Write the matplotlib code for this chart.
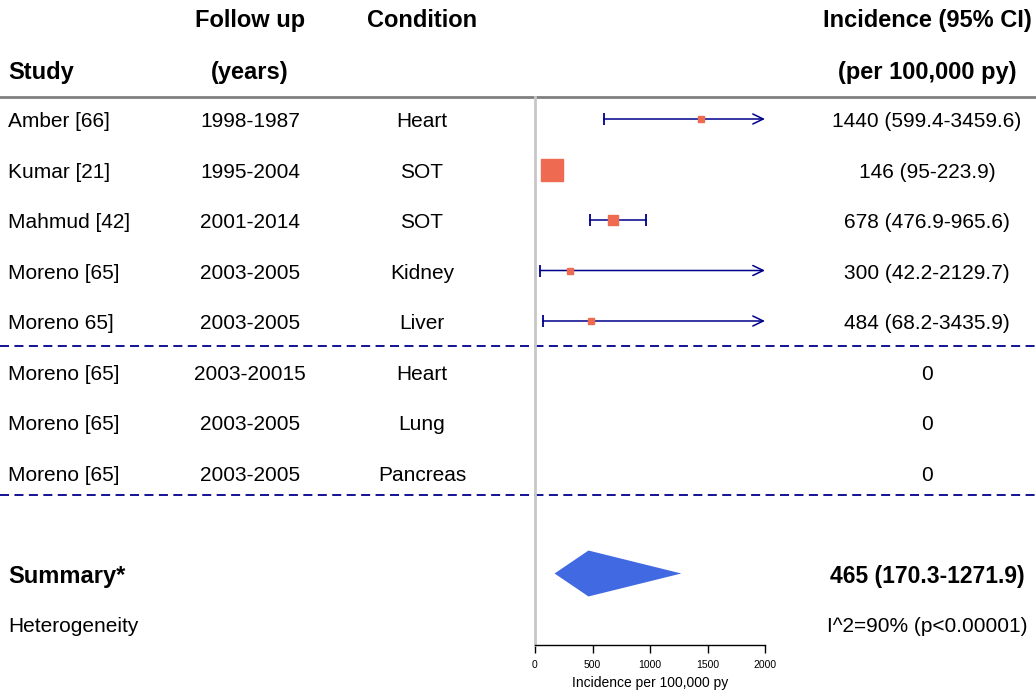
import matplotlib.pyplot as plt
from matplotlib.patches import Polygon

plt.rcParams['font.family'] = ['Liberation Sans', 'DejaVu Sans']

# study table
studies = ['Amber [66]', 'Kumar [21]', 'Mahmud [42]', 'Moreno [65]', 'Moreno 65]',
           'Moreno [65]', 'Moreno [65]', 'Moreno [65]']
follow_up = ['1998-1987', '1995-2004', '2001-2014', '2003-2005', '2003-2005',
             '2003-20015', '2003-2005', '2003-2005']
condition = ['Heart', 'SOT', 'SOT', 'Kidney', 'Liver', 'Heart', 'Lung', 'Pancreas']
incidence = [1440, 146, 678, 300, 484, 0, 0, 0]
ci_low = [599.4, 95, 476.9, 42.2, 68.2, None, None, None]
ci_high = [3459.6, 223.9, 965.6, 2129.7, 3435.9, None, None, None]
box_size = [4.3, 16.5, 6.5, 4.8, 3.8, 0, 0, 0]  # square size ~ study weight

summary_est = 465
summary_low = 170.3
summary_high = 1271.9
heterogeneity = 'I^2=90% (p<0.00001)'

x_ticks = [0, 500, 1000, 1500, 2000]
x_max = 2000

line_col = '#00008B'
box_col = '#EE6A50'
diamond_col = '#4169E1'

W, H = 1036, 691
Y0, ROW_H = 119, 50.5   # pixel centre of first row, row height
TXT_DY = 0.05           # nudge text down onto the row centre


def row_of(py):
    return (py - Y0) / ROW_H


def fmt_ci(est, lo, hi):
    if lo is None:
        return '%g' % est
    return '%g (%g-%g)' % (est, lo, hi)


fig = plt.figure(figsize=(W / 100, H / 100), dpi=100)
fig.patch.set_facecolor('white')

# text layer over the whole figure, y in row units
tax = fig.add_axes([0, 0, 1, 1])
tax.set_xlim(0, W)
tax.set_ylim(row_of(H), row_of(0))
tax.axis('off')


def put(x, row, s, ha='center', size=15, weight='normal'):
    tax.text(x, row + TXT_DY, s, ha=ha, va='center', fontsize=size, fontweight=weight)


x_study, x_fu, x_cond, x_inc = 8, 250, 422, 927
put(x_fu, -2, 'Follow up', size=17, weight='bold')
put(x_cond, -2, 'Condition', size=17, weight='bold')
put(x_inc, -2, 'Incidence (95% CI)', size=17, weight='bold')
put(x_study, -0.97, 'Study', ha='left', size=17, weight='bold')
put(x_fu, -0.97, '(years)', size=17, weight='bold')
put(x_inc, -0.97, '(per 100,000 py)', size=17, weight='bold')

for i in range(len(studies)):
    put(x_study, i, studies[i], ha='left')
    put(x_fu, i, follow_up[i])
    put(x_cond, i, condition[i])
    put(x_inc, i, fmt_ci(incidence[i], ci_low[i], ci_high[i]))

n = len(studies)
put(x_study, n + 1, 'Summary*', ha='left', size=17, weight='bold')
put(x_inc, n + 1, fmt_ci(summary_est, summary_low, summary_high), size=16.5, weight='bold')
put(x_study, n + 2, 'Heterogeneity', ha='left')
put(x_inc, n + 2, heterogeneity)

top_row = row_of(97)
tax.axhline(top_row, color='#808080', lw=2)
tax.axhline(4.5, color=line_col, lw=1.3, ls=(0, (5, 3)))
tax.axhline(7.45, color=line_col, lw=1.3, ls=(0, (5, 3)))

# forest panel
ax_bottom = 645
ax = fig.add_axes([535 / W, 1 - ax_bottom / H, 230 / W, (ax_bottom - 97) / H])
ax.set_facecolor('none')
ax.set_xlim(0, x_max)
ax.set_ylim(row_of(ax_bottom), top_row)

for i in range(n):
    lo, hi = ci_low[i], ci_high[i]
    if lo is None:
        continue
    if hi > x_max:
        ax.annotate('', xy=(x_max, i), xytext=(lo, i),
                    arrowprops=dict(arrowstyle='->,head_length=0.75,head_width=0.36',
                                    color=line_col, lw=1.1, shrinkA=0, shrinkB=0),
                    annotation_clip=False)
        ax.plot([lo], [i], marker='|', ms=8, mew=1.3, color=line_col)
    else:
        ax.plot([lo, hi], [i, i], color=line_col, lw=1.1, marker='|', ms=8, mew=1.3)
    ax.plot([incidence[i]], [i], marker='s', ms=box_size[i], color=box_col,
            mec=box_col, ls='none', zorder=3, clip_on=False)

r = n + 1
ax.add_patch(Polygon([(summary_low, r), (summary_est, r - 0.455),
                      (summary_high, r), (summary_est, r + 0.455)],
                     closed=True, facecolor=diamond_col, edgecolor='none'))

ax.spines['top'].set_visible(False)
ax.spines['right'].set_visible(False)
ax.spines['left'].set_color('#c8c8c8')
ax.spines['left'].set_linewidth(2)
ax.spines['bottom'].set_linewidth(1)
ax.set_yticks([])
ax.set_xticks(x_ticks)
ax.tick_params(axis='x', direction='out', length=6, width=1, labelsize=7.5, pad=5)
ax.set_xlabel('Incidence per 100,000 py', fontsize=10, labelpad=4)

fig.savefig('out.png', dpi=100, facecolor='white')
